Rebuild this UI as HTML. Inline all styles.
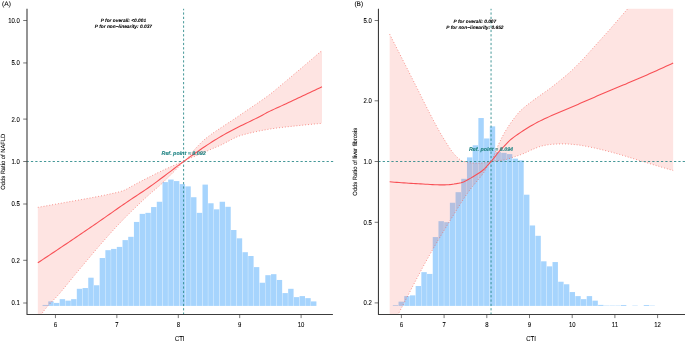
<!DOCTYPE html>
<html lang="en">
<head>
<meta charset="utf-8">
<title>Restricted cubic spline plots: CTI vs NAFLD and liver fibrosis</title>
<style>
html,body{margin:0;padding:0;background:#ffffff;}
body{width:685px;height:341px;overflow:hidden;font-family:"Liberation Sans",sans-serif;}
svg{display:block;font-family:"Liberation Sans",sans-serif;fill:#000000;will-change:transform;text-rendering:geometricPrecision;}
text{stroke:#000;stroke-width:0.07px;paint-order:stroke fill;}
text.ref{stroke:#238585;stroke-width:0.14px;}
</style>
</head>
<body>
<svg width="685" height="341" viewBox="0 0 685 341">
<rect x="0" y="0" width="685" height="341" fill="#ffffff"/>
<clipPath id="ca"><rect x="27" y="8.8" width="307.9" height="305.7"/></clipPath>
<g clip-path="url(#ca)">
<g fill="#a6d4fd"><rect x="42.55" y="304.94" width="5.41" height="0.96"/><rect x="48.26" y="301.41" width="5.41" height="4.49"/><rect x="53.97" y="302.92" width="5.41" height="2.98"/><rect x="59.69" y="299.14" width="5.41" height="6.76"/><rect x="65.4" y="300.65" width="5.41" height="5.25"/><rect x="71.11" y="299.14" width="5.41" height="6.76"/><rect x="76.82" y="288.8" width="5.41" height="17.1"/><rect x="82.53" y="288.04" width="5.41" height="17.86"/><rect x="88.25" y="277.7" width="5.41" height="28.2"/><rect x="93.96" y="285.26" width="5.41" height="20.64"/><rect x="99.67" y="258.03" width="5.41" height="47.87"/><rect x="105.38" y="250.18" width="5.41" height="55.72"/><rect x="111.09" y="248.92" width="5.41" height="56.98"/><rect x="116.81" y="246.91" width="5.41" height="58.99"/><rect x="122.52" y="240.1" width="5.41" height="65.8"/><rect x="128.23" y="236.82" width="5.41" height="69.08"/><rect x="133.94" y="221.94" width="5.41" height="83.96"/><rect x="139.65" y="213.87" width="5.41" height="92.03"/><rect x="145.37" y="212.86" width="5.41" height="93.04"/><rect x="151.08" y="207.06" width="5.41" height="98.84"/><rect x="156.79" y="201.76" width="5.41" height="104.14"/><rect x="162.5" y="182.09" width="5.41" height="123.81"/><rect x="168.21" y="179.57" width="5.41" height="126.33"/><rect x="173.93" y="181.08" width="5.41" height="124.82"/><rect x="179.64" y="184.11" width="5.41" height="121.79"/><rect x="185.35" y="186.38" width="5.41" height="119.52"/><rect x="191.06" y="197.22" width="5.41" height="108.68"/><rect x="196.77" y="212.86" width="5.41" height="93.04"/><rect x="202.49" y="184.61" width="5.41" height="121.29"/><rect x="208.2" y="203.27" width="5.41" height="102.63"/><rect x="213.91" y="209.33" width="5.41" height="96.57"/><rect x="219.62" y="201.76" width="5.41" height="104.14"/><rect x="225.33" y="206.8" width="5.41" height="99.1"/><rect x="231.05" y="230.01" width="5.41" height="75.89"/><rect x="236.76" y="238.33" width="5.41" height="67.57"/><rect x="242.47" y="252.2" width="5.41" height="53.7"/><rect x="248.18" y="256.01" width="5.41" height="49.89"/><rect x="253.89" y="267.11" width="5.41" height="38.79"/><rect x="259.61" y="282.74" width="5.41" height="23.16"/><rect x="265.32" y="275.18" width="5.41" height="30.72"/><rect x="271.03" y="274.17" width="5.41" height="31.73"/><rect x="276.74" y="279.97" width="5.41" height="25.93"/><rect x="282.45" y="293.08" width="5.41" height="12.82"/><rect x="288.17" y="288.8" width="5.41" height="17.1"/><rect x="293.88" y="297.12" width="5.41" height="8.78"/><rect x="299.59" y="296.11" width="5.41" height="9.79"/><rect x="305.3" y="298.13" width="5.41" height="7.77"/><rect x="311.01" y="301.41" width="5.41" height="4.49"/></g>
<path d="M37.83 207.4 L40.22 206.97 L42.61 206.54 L44.99 206.11 L47.38 205.68 L49.77 205.25 L52.16 204.82 L54.55 204.38 L56.93 203.95 L59.32 203.52 L61.71 203.09 L64.1 202.66 L66.49 202.23 L68.87 201.8 L71.26 201.37 L73.65 200.95 L76.04 200.52 L78.43 200.1 L80.81 199.68 L83.2 199.25 L85.59 198.82 L87.98 198.38 L90.37 197.93 L92.75 197.48 L95.14 197.03 L97.53 196.57 L99.92 196.11 L102.31 195.64 L104.69 195.15 L107.08 194.64 L109.47 194.12 L111.86 193.59 L114.25 193.07 L116.63 192.53 L119.02 191.94 L121.41 191.26 L123.8 190.47 L126.19 189.39 L128.57 188.01 L130.96 186.68 L133.35 185.39 L135.74 184.08 L138.13 182.79 L140.51 181.53 L142.9 180.3 L145.29 179.08 L147.68 177.87 L150.07 176.67 L152.45 175.46 L154.84 174.25 L157.23 173.05 L159.62 171.88 L162.01 170.75 L164.39 169.64 L166.78 168.54 L169.17 167.47 L171.56 166.41 L173.95 165.34 L176.33 164.3 L178.72 163.31 L181.11 162.42 L183.5 161.55 L185.88 159.86 L188.27 157.33 L190.66 154.35 L193.05 151.3 L195.44 148.57 L197.82 146.06 L200.21 143.59 L202.6 141.25 L204.99 139.12 L207.38 137.2 L209.76 135.39 L212.15 133.66 L214.54 132 L216.93 130.41 L219.32 128.84 L221.7 127.26 L224.09 125.68 L226.48 124.11 L228.87 122.53 L231.26 120.96 L233.64 119.38 L236.03 117.78 L238.42 116.16 L240.81 114.53 L243.2 112.89 L245.58 111.25 L247.97 109.63 L250.36 108.03 L252.75 106.43 L255.14 104.82 L257.52 103.19 L259.91 101.54 L262.3 99.86 L264.69 98.17 L267.08 96.45 L269.46 94.68 L271.85 92.84 L274.24 90.9 L276.63 88.9 L279.02 86.88 L281.4 84.88 L283.79 82.89 L286.18 80.89 L288.57 78.89 L290.96 76.88 L293.34 74.87 L295.73 72.86 L298.12 70.85 L300.51 68.83 L302.9 66.8 L305.28 64.77 L307.67 62.74 L310.06 60.7 L312.45 58.66 L314.84 56.61 L317.22 54.56 L319.61 52.5 L322 50.44 L322 123.33 L319.61 123.54 L317.22 123.75 L314.84 123.97 L312.45 124.19 L310.06 124.42 L307.67 124.65 L305.28 124.89 L302.9 125.13 L300.51 125.38 L298.12 125.63 L295.73 125.89 L293.34 126.15 L290.96 126.4 L288.57 126.66 L286.18 126.93 L283.79 127.2 L281.4 127.48 L279.02 127.78 L276.63 128.08 L274.24 128.41 L271.85 128.75 L269.46 129.12 L267.08 129.52 L264.69 129.94 L262.3 130.38 L259.91 130.86 L257.52 131.35 L255.14 131.87 L252.75 132.41 L250.36 132.96 L247.97 133.54 L245.58 134.13 L243.2 134.78 L240.81 135.49 L238.42 136.31 L236.03 137.29 L233.64 138.41 L231.26 139.63 L228.87 140.91 L226.48 142.21 L224.09 143.48 L221.7 144.68 L219.32 145.77 L216.93 146.81 L214.54 147.81 L212.15 148.81 L209.76 149.83 L207.38 150.85 L204.99 151.87 L202.6 152.89 L200.21 153.92 L197.82 154.96 L195.44 156.01 L193.05 157.01 L190.66 157.94 L188.27 158.91 L185.88 160.08 L183.5 161.58 L181.11 164.19 L178.72 166.75 L176.33 169.19 L173.95 171.58 L171.56 173.95 L169.17 176.33 L166.78 178.72 L164.39 181.09 L162.01 183.41 L159.62 185.62 L157.23 187.71 L154.84 189.73 L152.45 191.74 L150.07 193.82 L147.68 195.96 L145.29 198.13 L142.9 200.35 L140.51 202.61 L138.13 204.88 L135.74 207.17 L133.35 209.48 L130.96 211.81 L128.57 214.17 L126.19 216.56 L123.8 218.97 L121.41 221.43 L119.02 223.92 L116.63 226.45 L114.25 229.03 L111.86 231.64 L109.47 234.29 L107.08 236.96 L104.69 239.67 L102.31 242.41 L99.92 245.16 L97.53 247.94 L95.14 250.74 L92.75 253.55 L90.37 256.38 L87.98 259.22 L85.59 262.06 L83.2 264.91 L80.81 267.76 L78.43 270.61 L76.04 273.46 L73.65 276.33 L71.26 279.26 L68.87 282.22 L66.49 285.17 L64.1 288.1 L61.71 290.98 L59.32 293.78 L56.93 296.41 L54.55 298.9 L52.16 301.36 L49.77 303.86 L47.38 306.5 L44.99 309.37 L42.61 312.56 L40.22 316.36 L37.83 320.57 Z" fill="rgba(250,96,84,0.17)"/>
<path d="M37.83 207.4 L40.22 206.97 L42.61 206.54 L44.99 206.11 L47.38 205.68 L49.77 205.25 L52.16 204.82 L54.55 204.38 L56.93 203.95 L59.32 203.52 L61.71 203.09 L64.1 202.66 L66.49 202.23 L68.87 201.8 L71.26 201.37 L73.65 200.95 L76.04 200.52 L78.43 200.1 L80.81 199.68 L83.2 199.25 L85.59 198.82 L87.98 198.38 L90.37 197.93 L92.75 197.48 L95.14 197.03 L97.53 196.57 L99.92 196.11 L102.31 195.64 L104.69 195.15 L107.08 194.64 L109.47 194.12 L111.86 193.59 L114.25 193.07 L116.63 192.53 L119.02 191.94 L121.41 191.26 L123.8 190.47 L126.19 189.39 L128.57 188.01 L130.96 186.68 L133.35 185.39 L135.74 184.08 L138.13 182.79 L140.51 181.53 L142.9 180.3 L145.29 179.08 L147.68 177.87 L150.07 176.67 L152.45 175.46 L154.84 174.25 L157.23 173.05 L159.62 171.88 L162.01 170.75 L164.39 169.64 L166.78 168.54 L169.17 167.47 L171.56 166.41 L173.95 165.34 L176.33 164.3 L178.72 163.31 L181.11 162.42 L183.5 161.55 L185.88 159.86 L188.27 157.33 L190.66 154.35 L193.05 151.3 L195.44 148.57 L197.82 146.06 L200.21 143.59 L202.6 141.25 L204.99 139.12 L207.38 137.2 L209.76 135.39 L212.15 133.66 L214.54 132 L216.93 130.41 L219.32 128.84 L221.7 127.26 L224.09 125.68 L226.48 124.11 L228.87 122.53 L231.26 120.96 L233.64 119.38 L236.03 117.78 L238.42 116.16 L240.81 114.53 L243.2 112.89 L245.58 111.25 L247.97 109.63 L250.36 108.03 L252.75 106.43 L255.14 104.82 L257.52 103.19 L259.91 101.54 L262.3 99.86 L264.69 98.17 L267.08 96.45 L269.46 94.68 L271.85 92.84 L274.24 90.9 L276.63 88.9 L279.02 86.88 L281.4 84.88 L283.79 82.89 L286.18 80.89 L288.57 78.89 L290.96 76.88 L293.34 74.87 L295.73 72.86 L298.12 70.85 L300.51 68.83 L302.9 66.8 L305.28 64.77 L307.67 62.74 L310.06 60.7 L312.45 58.66 L314.84 56.61 L317.22 54.56 L319.61 52.5 L322 50.44" fill="none" stroke="#f4574d" stroke-width="0.7" stroke-dasharray="0.85 2.07"/>
<path d="M37.83 320.57 L40.22 316.36 L42.61 312.56 L44.99 309.37 L47.38 306.5 L49.77 303.86 L52.16 301.36 L54.55 298.9 L56.93 296.41 L59.32 293.78 L61.71 290.98 L64.1 288.1 L66.49 285.17 L68.87 282.22 L71.26 279.26 L73.65 276.33 L76.04 273.46 L78.43 270.61 L80.81 267.76 L83.2 264.91 L85.59 262.06 L87.98 259.22 L90.37 256.38 L92.75 253.55 L95.14 250.74 L97.53 247.94 L99.92 245.16 L102.31 242.41 L104.69 239.67 L107.08 236.96 L109.47 234.29 L111.86 231.64 L114.25 229.03 L116.63 226.45 L119.02 223.92 L121.41 221.43 L123.8 218.97 L126.19 216.56 L128.57 214.17 L130.96 211.81 L133.35 209.48 L135.74 207.17 L138.13 204.88 L140.51 202.61 L142.9 200.35 L145.29 198.13 L147.68 195.96 L150.07 193.82 L152.45 191.74 L154.84 189.73 L157.23 187.71 L159.62 185.62 L162.01 183.41 L164.39 181.09 L166.78 178.72 L169.17 176.33 L171.56 173.95 L173.95 171.58 L176.33 169.19 L178.72 166.75 L181.11 164.19 L183.5 161.58 L185.88 160.08 L188.27 158.91 L190.66 157.94 L193.05 157.01 L195.44 156.01 L197.82 154.96 L200.21 153.92 L202.6 152.89 L204.99 151.87 L207.38 150.85 L209.76 149.83 L212.15 148.81 L214.54 147.81 L216.93 146.81 L219.32 145.77 L221.7 144.68 L224.09 143.48 L226.48 142.21 L228.87 140.91 L231.26 139.63 L233.64 138.41 L236.03 137.29 L238.42 136.31 L240.81 135.49 L243.2 134.78 L245.58 134.13 L247.97 133.54 L250.36 132.96 L252.75 132.41 L255.14 131.87 L257.52 131.35 L259.91 130.86 L262.3 130.38 L264.69 129.94 L267.08 129.52 L269.46 129.12 L271.85 128.75 L274.24 128.41 L276.63 128.08 L279.02 127.78 L281.4 127.48 L283.79 127.2 L286.18 126.93 L288.57 126.66 L290.96 126.4 L293.34 126.15 L295.73 125.89 L298.12 125.63 L300.51 125.38 L302.9 125.13 L305.28 124.89 L307.67 124.65 L310.06 124.42 L312.45 124.19 L314.84 123.97 L317.22 123.75 L319.61 123.54 L322 123.33" fill="none" stroke="#f4574d" stroke-width="0.7" stroke-dasharray="0.85 2.07"/>
</g>
<path d="M27 161.5 H333.2" stroke="#238585" stroke-width="0.85" stroke-dasharray="2.25 2.098" stroke-dashoffset="0.43" fill="none"/>
<path d="M183.6 8.8 V314.5" stroke="#238585" stroke-width="0.85" stroke-dasharray="2.25 2.099" stroke-dashoffset="0.73" fill="none"/>
<path d="M37.83 262.8 L40.22 261.22 L42.61 259.64 L44.99 258.06 L47.38 256.47 L49.77 254.88 L52.16 253.29 L54.55 251.7 L56.93 250.1 L59.32 248.5 L61.71 246.9 L64.1 245.29 L66.49 243.69 L68.87 242.08 L71.26 240.47 L73.65 238.85 L76.04 237.23 L78.43 235.61 L80.81 233.99 L83.2 232.37 L85.59 230.74 L87.98 229.11 L90.37 227.48 L92.75 225.85 L95.14 224.22 L97.53 222.57 L99.92 220.92 L102.31 219.26 L104.69 217.59 L107.08 215.92 L109.47 214.25 L111.86 212.57 L114.25 210.9 L116.63 209.23 L119.02 207.56 L121.41 205.9 L123.8 204.25 L126.19 202.6 L128.57 200.97 L130.96 199.35 L133.35 197.76 L135.74 196.18 L138.13 194.62 L140.51 193.05 L142.9 191.47 L145.29 189.87 L147.68 188.23 L150.07 186.54 L152.45 184.82 L154.84 183.08 L157.23 181.31 L159.62 179.53 L162.01 177.74 L164.39 175.95 L166.78 174.16 L169.17 172.37 L171.56 170.56 L173.95 168.74 L176.33 166.92 L178.72 165.12 L181.11 163.33 L183.5 161.57 L185.88 159.84 L188.27 158.12 L190.66 156.4 L193.05 154.7 L195.44 153.01 L197.82 151.34 L200.21 149.69 L202.6 148.06 L204.99 146.47 L207.38 144.89 L209.76 143.35 L212.15 141.83 L214.54 140.33 L216.93 138.86 L219.32 137.41 L221.7 136 L224.09 134.61 L226.48 133.26 L228.87 131.96 L231.26 130.7 L233.64 129.46 L236.03 128.24 L238.42 127.03 L240.81 125.84 L243.2 124.68 L245.58 123.52 L247.97 122.37 L250.36 121.22 L252.75 120.06 L255.14 118.88 L257.52 117.68 L259.91 116.44 L262.3 115.15 L264.69 113.85 L267.08 112.58 L269.46 111.37 L271.85 110.22 L274.24 109.12 L276.63 108.03 L279.02 106.96 L281.4 105.88 L283.79 104.78 L286.18 103.67 L288.57 102.55 L290.96 101.44 L293.34 100.32 L295.73 99.2 L298.12 98.08 L300.51 96.96 L302.9 95.84 L305.28 94.71 L307.67 93.58 L310.06 92.45 L312.45 91.32 L314.84 90.18 L317.22 89.04 L319.61 87.9 L322 86.76" fill="none" stroke="#f84f55" stroke-width="1.08" stroke-linejoin="round" clip-path="url(#ca)"/>
<path d="M27 8.8 V314.5 H332.9" fill="none" stroke="#3c3c3c" stroke-width="1.1" stroke-linejoin="round"/>
<path d="M27 20.5 h-3.8 M27 62.95 h-3.8 M27 119.1 h-3.8 M27 161.5 h-3.8 M27 204 h-3.8 M27 260.3 h-3.8 M27 303 h-3.8 M55.45 314.5 v3.6 M116.85 314.5 v3.6 M178.3 314.5 v3.6 M239.7 314.5 v3.6 M301.1 314.5 v3.6" fill="none" stroke="#3c3c3c" stroke-width="0.7"/>
<text transform="translate(19.7 22.95) scale(1 1.2)" text-anchor="end" font-size="5.95">10.0</text>
<text transform="translate(19.7 65.4) scale(1 1.2)" text-anchor="end" font-size="5.95">5.0</text>
<text transform="translate(19.7 121.55) scale(1 1.2)" text-anchor="end" font-size="5.95">2.0</text>
<text transform="translate(19.7 163.95) scale(1 1.2)" text-anchor="end" font-size="5.95">1.0</text>
<text transform="translate(19.7 206.45) scale(1 1.2)" text-anchor="end" font-size="5.95">0.5</text>
<text transform="translate(19.7 262.75) scale(1 1.2)" text-anchor="end" font-size="5.95">0.2</text>
<text transform="translate(19.7 305.45) scale(1 1.2)" text-anchor="end" font-size="5.95">0.1</text>
<text transform="translate(55.45 327.1) scale(1 1.2)" text-anchor="middle" font-size="5.95">6</text>
<text transform="translate(116.85 327.1) scale(1 1.2)" text-anchor="middle" font-size="5.95">7</text>
<text transform="translate(178.3 327.1) scale(1 1.2)" text-anchor="middle" font-size="5.95">8</text>
<text transform="translate(239.7 327.1) scale(1 1.2)" text-anchor="middle" font-size="5.95">9</text>
<text transform="translate(301.1 327.1) scale(1 1.2)" text-anchor="middle" font-size="5.95">10</text>
<text transform="translate(179.7 341.0) scale(1 1.2)" text-anchor="middle" font-size="5.95">CTI</text>
<text transform="translate(5.3 161.8) rotate(-90) scale(1 1.04)" text-anchor="middle" font-size="5.8">Odds Ratio of NAFLD</text>
<text x="2.1" y="5.8" font-size="6.6">(A)</text>
<g font-weight="bold" font-style="italic" text-anchor="middle" font-size="4.82">
<text x="123.4" y="21.8">P for overall: &lt;0.001</text>
<text x="123.4" y="27.7">P for non−linearity: 0.037</text>
<text class="ref" x="183.6" y="154.6" fill="#238585" font-size="5.35">Ref. point = 8.092</text>
</g>
<clipPath id="cb"><rect x="378.45" y="8.8" width="308.55" height="305.7"/></clipPath>
<g clip-path="url(#cb)">
<g fill="#a6d4fd"><rect x="392.85" y="305.19" width="5.4" height="0.71"/><rect x="398.55" y="301.66" width="5.4" height="4.24"/><rect x="404.25" y="296.11" width="5.4" height="9.79"/><rect x="409.96" y="295.35" width="5.4" height="10.55"/><rect x="415.66" y="286.02" width="5.4" height="19.88"/><rect x="421.36" y="272.15" width="5.4" height="33.75"/><rect x="427.06" y="273.92" width="5.4" height="31.98"/><rect x="432.76" y="237.07" width="5.4" height="68.83"/><rect x="438.47" y="221.18" width="5.4" height="84.72"/><rect x="444.17" y="222.19" width="5.4" height="83.71"/><rect x="449.87" y="202.77" width="5.4" height="103.13"/><rect x="455.57" y="192.18" width="5.4" height="113.72"/><rect x="461.27" y="178.81" width="5.4" height="127.09"/><rect x="466.98" y="157.37" width="5.4" height="148.53"/><rect x="472.68" y="145.27" width="5.4" height="160.63"/><rect x="478.38" y="118.03" width="5.4" height="187.87"/><rect x="484.08" y="138.46" width="5.4" height="167.44"/><rect x="489.78" y="126.35" width="5.4" height="179.55"/><rect x="495.49" y="152.08" width="5.4" height="153.82"/><rect x="501.19" y="152.83" width="5.4" height="153.07"/><rect x="506.89" y="154.1" width="5.4" height="151.8"/><rect x="512.59" y="158.64" width="5.4" height="147.26"/><rect x="518.29" y="160.4" width="5.4" height="145.5"/><rect x="524" y="194.7" width="5.4" height="111.2"/><rect x="529.7" y="225.47" width="5.4" height="80.43"/><rect x="535.4" y="235.81" width="5.4" height="70.09"/><rect x="541.1" y="261.31" width="5.4" height="44.59"/><rect x="546.8" y="266.35" width="5.4" height="39.55"/><rect x="552.51" y="262.06" width="5.4" height="43.84"/><rect x="558.21" y="281.73" width="5.4" height="24.17"/><rect x="563.91" y="284.26" width="5.4" height="21.64"/><rect x="569.61" y="292.07" width="5.4" height="13.83"/><rect x="575.31" y="296.11" width="5.4" height="9.79"/><rect x="581.02" y="299.14" width="5.4" height="6.76"/><rect x="586.72" y="296.11" width="5.4" height="9.79"/><rect x="592.42" y="300.65" width="5.4" height="5.25"/><rect x="598.12" y="304.9" width="5.4" height="1"/><rect x="603.82" y="305.55" width="5.4" height="0.35"/><rect x="609.53" y="305.55" width="5.4" height="0.35"/><rect x="615.23" y="305.55" width="5.4" height="0.35"/><rect x="620.93" y="305" width="5.4" height="0.9"/><rect x="632.33" y="305.55" width="5.4" height="0.35"/><rect x="643.74" y="305" width="5.4" height="0.9"/><rect x="649.44" y="305.55" width="5.4" height="0.35"/></g>
<path d="M389.66 34.2 L392.04 38.86 L394.42 43.52 L396.81 48.19 L399.19 52.87 L401.57 57.54 L403.95 62.23 L406.34 66.92 L408.72 71.61 L411.1 76.3 L413.48 81 L415.86 85.71 L418.25 90.44 L420.63 95.23 L423.01 100.03 L425.39 104.81 L427.78 109.53 L430.16 114.15 L432.54 118.66 L434.92 123.16 L437.31 127.6 L439.69 131.91 L442.07 136.02 L444.45 139.86 L446.83 143.66 L449.22 147.39 L451.6 150.88 L453.98 153.97 L456.36 156.5 L458.75 158.64 L461.13 160.41 L463.51 161.38 L465.89 161.95 L468.27 162.43 L470.66 162.8 L473.04 163.05 L475.42 163.17 L477.8 163.16 L480.19 163.08 L482.57 162.91 L484.95 162.65 L487.33 162.29 L489.72 161.82 L492.1 160.41 L494.48 154.22 L496.86 148.16 L499.24 142.9 L501.63 138.01 L504.01 133.56 L506.39 129.53 L508.77 125.82 L511.16 122.33 L513.54 119.09 L515.92 115.97 L518.3 113.04 L520.68 110.52 L523.07 108.34 L525.45 106.35 L527.83 104.48 L530.21 102.63 L532.6 100.83 L534.98 99.09 L537.36 97.39 L539.74 95.68 L542.13 93.99 L544.51 92.33 L546.89 90.66 L549.27 88.94 L551.65 87.15 L554.04 85.3 L556.42 83.4 L558.8 81.47 L561.18 79.54 L563.57 77.6 L565.95 75.62 L568.33 73.58 L570.71 71.45 L573.09 69.18 L575.48 66.83 L577.86 64.44 L580.24 62.03 L582.62 59.56 L585.01 57.01 L587.39 54.38 L589.77 51.71 L592.15 49.06 L594.54 46.4 L596.92 43.74 L599.3 41.08 L601.68 38.44 L604.06 35.81 L606.45 33.19 L608.83 30.53 L611.21 27.83 L613.59 25.08 L615.98 22.3 L618.36 19.52 L620.74 16.73 L623.12 13.97 L625.5 11.24 L627.89 8.56 L630.27 5.9 L632.65 3.25 L635.03 0.61 L637.42 -2.02 L639.8 -4.64 L642.18 -7.25 L644.56 -9.85 L646.95 -12.44 L649.33 -15.02 L651.71 -17.58 L654.09 -20.13 L656.47 -22.67 L658.86 -25.19 L661.24 -27.7 L663.62 -30.19 L666 -32.67 L668.39 -35.13 L670.77 -37.57 L673.15 -40 L673.15 170.49 L670.77 169.82 L668.39 169.14 L666 168.46 L663.62 167.77 L661.24 167.07 L658.86 166.36 L656.47 165.65 L654.09 164.93 L651.71 164.21 L649.33 163.49 L646.95 162.77 L644.56 162.05 L642.18 161.33 L639.8 160.61 L637.42 159.89 L635.03 159.16 L632.65 158.42 L630.27 157.68 L627.89 156.94 L625.5 156.2 L623.12 155.48 L620.74 154.77 L618.36 154.07 L615.98 153.4 L613.59 152.75 L611.21 152.12 L608.83 151.5 L606.45 150.88 L604.06 150.28 L601.68 149.68 L599.3 149.11 L596.92 148.55 L594.54 148.02 L592.15 147.5 L589.77 147.02 L587.39 146.55 L585.01 146.09 L582.62 145.64 L580.24 145.23 L577.86 144.9 L575.48 144.65 L573.09 144.43 L570.71 144.23 L568.33 144.06 L565.95 143.95 L563.57 143.9 L561.18 143.92 L558.8 143.98 L556.42 144.06 L554.04 144.17 L551.65 144.32 L549.27 144.59 L546.89 144.95 L544.51 145.38 L542.13 145.89 L539.74 146.61 L537.36 147.48 L534.98 148.43 L532.6 149.39 L530.21 150.45 L527.83 151.6 L525.45 152.73 L523.07 153.75 L520.68 154.66 L518.3 155.51 L515.92 156.31 L513.54 157.09 L511.16 157.88 L508.77 158.7 L506.39 159.44 L504.01 160.03 L501.63 160.4 L499.24 160.62 L496.86 160.78 L494.48 160.97 L492.1 161.29 L489.72 162.45 L487.33 166.35 L484.95 170.9 L482.57 174.26 L480.19 177.29 L477.8 180.15 L475.42 182.97 L473.04 185.83 L470.66 188.83 L468.27 192.07 L465.89 195.5 L463.51 199.06 L461.13 202.74 L458.75 206.51 L456.36 210.34 L453.98 214.21 L451.6 218.1 L449.22 221.97 L446.83 225.85 L444.45 229.74 L442.07 233.67 L439.69 237.63 L437.31 241.63 L434.92 245.68 L432.54 249.79 L430.16 253.95 L427.78 258.18 L425.39 262.49 L423.01 266.86 L420.63 271.29 L418.25 275.77 L415.86 280.3 L413.48 284.85 L411.1 289.43 L408.72 294.03 L406.34 298.63 L403.95 303.22 L401.57 307.81 L399.19 312.38 L396.81 316.93 L394.42 321.49 L392.04 326.07 L389.66 330.66 Z" fill="rgba(250,96,84,0.17)"/>
<path d="M389.66 34.2 L392.04 38.86 L394.42 43.52 L396.81 48.19 L399.19 52.87 L401.57 57.54 L403.95 62.23 L406.34 66.92 L408.72 71.61 L411.1 76.3 L413.48 81 L415.86 85.71 L418.25 90.44 L420.63 95.23 L423.01 100.03 L425.39 104.81 L427.78 109.53 L430.16 114.15 L432.54 118.66 L434.92 123.16 L437.31 127.6 L439.69 131.91 L442.07 136.02 L444.45 139.86 L446.83 143.66 L449.22 147.39 L451.6 150.88 L453.98 153.97 L456.36 156.5 L458.75 158.64 L461.13 160.41 L463.51 161.38 L465.89 161.95 L468.27 162.43 L470.66 162.8 L473.04 163.05 L475.42 163.17 L477.8 163.16 L480.19 163.08 L482.57 162.91 L484.95 162.65 L487.33 162.29 L489.72 161.82 L492.1 160.41 L494.48 154.22 L496.86 148.16 L499.24 142.9 L501.63 138.01 L504.01 133.56 L506.39 129.53 L508.77 125.82 L511.16 122.33 L513.54 119.09 L515.92 115.97 L518.3 113.04 L520.68 110.52 L523.07 108.34 L525.45 106.35 L527.83 104.48 L530.21 102.63 L532.6 100.83 L534.98 99.09 L537.36 97.39 L539.74 95.68 L542.13 93.99 L544.51 92.33 L546.89 90.66 L549.27 88.94 L551.65 87.15 L554.04 85.3 L556.42 83.4 L558.8 81.47 L561.18 79.54 L563.57 77.6 L565.95 75.62 L568.33 73.58 L570.71 71.45 L573.09 69.18 L575.48 66.83 L577.86 64.44 L580.24 62.03 L582.62 59.56 L585.01 57.01 L587.39 54.38 L589.77 51.71 L592.15 49.06 L594.54 46.4 L596.92 43.74 L599.3 41.08 L601.68 38.44 L604.06 35.81 L606.45 33.19 L608.83 30.53 L611.21 27.83 L613.59 25.08 L615.98 22.3 L618.36 19.52 L620.74 16.73 L623.12 13.97 L625.5 11.24 L627.89 8.56 L630.27 5.9 L632.65 3.25 L635.03 0.61 L637.42 -2.02 L639.8 -4.64 L642.18 -7.25 L644.56 -9.85 L646.95 -12.44 L649.33 -15.02 L651.71 -17.58 L654.09 -20.13 L656.47 -22.67 L658.86 -25.19 L661.24 -27.7 L663.62 -30.19 L666 -32.67 L668.39 -35.13 L670.77 -37.57 L673.15 -40" fill="none" stroke="#f4574d" stroke-width="0.7" stroke-dasharray="0.85 2.07"/>
<path d="M389.66 330.66 L392.04 326.07 L394.42 321.49 L396.81 316.93 L399.19 312.38 L401.57 307.81 L403.95 303.22 L406.34 298.63 L408.72 294.03 L411.1 289.43 L413.48 284.85 L415.86 280.3 L418.25 275.77 L420.63 271.29 L423.01 266.86 L425.39 262.49 L427.78 258.18 L430.16 253.95 L432.54 249.79 L434.92 245.68 L437.31 241.63 L439.69 237.63 L442.07 233.67 L444.45 229.74 L446.83 225.85 L449.22 221.97 L451.6 218.1 L453.98 214.21 L456.36 210.34 L458.75 206.51 L461.13 202.74 L463.51 199.06 L465.89 195.5 L468.27 192.07 L470.66 188.83 L473.04 185.83 L475.42 182.97 L477.8 180.15 L480.19 177.29 L482.57 174.26 L484.95 170.9 L487.33 166.35 L489.72 162.45 L492.1 161.29 L494.48 160.97 L496.86 160.78 L499.24 160.62 L501.63 160.4 L504.01 160.03 L506.39 159.44 L508.77 158.7 L511.16 157.88 L513.54 157.09 L515.92 156.31 L518.3 155.51 L520.68 154.66 L523.07 153.75 L525.45 152.73 L527.83 151.6 L530.21 150.45 L532.6 149.39 L534.98 148.43 L537.36 147.48 L539.74 146.61 L542.13 145.89 L544.51 145.38 L546.89 144.95 L549.27 144.59 L551.65 144.32 L554.04 144.17 L556.42 144.06 L558.8 143.98 L561.18 143.92 L563.57 143.9 L565.95 143.95 L568.33 144.06 L570.71 144.23 L573.09 144.43 L575.48 144.65 L577.86 144.9 L580.24 145.23 L582.62 145.64 L585.01 146.09 L587.39 146.55 L589.77 147.02 L592.15 147.5 L594.54 148.02 L596.92 148.55 L599.3 149.11 L601.68 149.68 L604.06 150.28 L606.45 150.88 L608.83 151.5 L611.21 152.12 L613.59 152.75 L615.98 153.4 L618.36 154.07 L620.74 154.77 L623.12 155.48 L625.5 156.2 L627.89 156.94 L630.27 157.68 L632.65 158.42 L635.03 159.16 L637.42 159.89 L639.8 160.61 L642.18 161.33 L644.56 162.05 L646.95 162.77 L649.33 163.49 L651.71 164.21 L654.09 164.93 L656.47 165.65 L658.86 166.36 L661.24 167.07 L663.62 167.77 L666 168.46 L668.39 169.14 L670.77 169.82 L673.15 170.49" fill="none" stroke="#f4574d" stroke-width="0.7" stroke-dasharray="0.85 2.07"/>
</g>
<path d="M378.45 161.5 H685" stroke="#238585" stroke-width="0.85" stroke-dasharray="2.25 2.098" stroke-dashoffset="0.11" fill="none"/>
<path d="M491.05 8.8 V314.5" stroke="#238585" stroke-width="0.85" stroke-dasharray="2.25 2.099" stroke-dashoffset="0.73" fill="none"/>
<path d="M389.66 181.8 L392.04 181.99 L394.42 182.18 L396.81 182.36 L399.19 182.53 L401.57 182.71 L403.95 182.87 L406.34 183.03 L408.72 183.19 L411.1 183.34 L413.48 183.48 L415.86 183.61 L418.25 183.75 L420.63 183.9 L423.01 184.04 L425.39 184.19 L427.78 184.33 L430.16 184.47 L432.54 184.59 L434.92 184.7 L437.31 184.79 L439.69 184.85 L442.07 184.89 L444.45 184.9 L446.83 184.82 L449.22 184.65 L451.6 184.39 L453.98 184.05 L456.36 183.65 L458.75 183.19 L461.13 182.69 L463.51 181.96 L465.89 180.79 L468.27 179.45 L470.66 178.14 L473.04 176.73 L475.42 175.25 L477.8 173.74 L480.19 172.26 L482.57 170.5 L484.95 168.27 L487.33 165.72 L489.72 163.02 L492.1 160.28 L494.48 157.29 L496.86 154.21 L499.24 151.28 L501.63 148.69 L504.01 146.29 L506.39 143.78 L508.77 141.33 L511.16 139.22 L513.54 137.36 L515.92 135.63 L518.3 133.97 L520.68 132.33 L523.07 130.73 L525.45 129.2 L527.83 127.7 L530.21 126.28 L532.6 124.92 L534.98 123.61 L537.36 122.35 L539.74 121.13 L542.13 119.95 L544.51 118.81 L546.89 117.71 L549.27 116.63 L551.65 115.56 L554.04 114.53 L556.42 113.51 L558.8 112.5 L561.18 111.51 L563.57 110.52 L565.95 109.52 L568.33 108.51 L570.71 107.49 L573.09 106.46 L575.48 105.43 L577.86 104.39 L580.24 103.35 L582.62 102.31 L585.01 101.27 L587.39 100.23 L589.77 99.2 L592.15 98.17 L594.54 97.14 L596.92 96.1 L599.3 95.07 L601.68 94.04 L604.06 93.02 L606.45 92 L608.83 90.99 L611.21 89.99 L613.59 89.01 L615.98 88.03 L618.36 87.07 L620.74 86.1 L623.12 85.12 L625.5 84.13 L627.89 83.12 L630.27 82.11 L632.65 81.09 L635.03 80.07 L637.42 79.04 L639.8 78.01 L642.18 76.98 L644.56 75.94 L646.95 74.89 L649.33 73.85 L651.71 72.79 L654.09 71.73 L656.47 70.67 L658.86 69.6 L661.24 68.52 L663.62 67.44 L666 66.35 L668.39 65.26 L670.77 64.16 L673.15 63.05" fill="none" stroke="#f84f55" stroke-width="1.08" stroke-linejoin="round" clip-path="url(#cb)"/>
<path d="M378.45 8.8 V314.5 H685" fill="none" stroke="#3c3c3c" stroke-width="1.1" stroke-linejoin="round"/>
<path d="M378.45 20.5 h-3.8 M378.45 100.8 h-3.8 M378.45 161.5 h-3.8 M378.45 222.3 h-3.8 M378.45 302.9 h-3.8 M401.4 314.5 v3.6 M444.1 314.5 v3.6 M486.8 314.5 v3.6 M529.5 314.5 v3.6 M572.2 314.5 v3.6 M614.9 314.5 v3.6 M657.6 314.5 v3.6" fill="none" stroke="#3c3c3c" stroke-width="0.7"/>
<text transform="translate(371.85 22.95) scale(1 1.2)" text-anchor="end" font-size="5.95">5.0</text>
<text transform="translate(371.85 103.25) scale(1 1.2)" text-anchor="end" font-size="5.95">2.0</text>
<text transform="translate(371.85 163.95) scale(1 1.2)" text-anchor="end" font-size="5.95">1.0</text>
<text transform="translate(371.85 224.75) scale(1 1.2)" text-anchor="end" font-size="5.95">0.5</text>
<text transform="translate(371.85 305.35) scale(1 1.2)" text-anchor="end" font-size="5.95">0.2</text>
<text transform="translate(401.4 327.1) scale(1 1.2)" text-anchor="middle" font-size="5.95">6</text>
<text transform="translate(444.1 327.1) scale(1 1.2)" text-anchor="middle" font-size="5.95">7</text>
<text transform="translate(486.8 327.1) scale(1 1.2)" text-anchor="middle" font-size="5.95">8</text>
<text transform="translate(529.5 327.1) scale(1 1.2)" text-anchor="middle" font-size="5.95">9</text>
<text transform="translate(572.2 327.1) scale(1 1.2)" text-anchor="middle" font-size="5.95">10</text>
<text transform="translate(614.9 327.1) scale(1 1.2)" text-anchor="middle" font-size="5.95">11</text>
<text transform="translate(657.6 327.1) scale(1 1.2)" text-anchor="middle" font-size="5.95">12</text>
<text transform="translate(531 341.0) scale(1 1.2)" text-anchor="middle" font-size="5.95">CTI</text>
<text transform="translate(356.6 161.8) rotate(-90) scale(1 1.04)" text-anchor="middle" font-size="5.8">Odds Ratio of liver fibrosis</text>
<text x="354.4" y="5.8" font-size="6.6">(B)</text>
<g font-weight="bold" font-style="italic" text-anchor="middle" font-size="4.82">
<text x="474.9" y="22.8">P for overall: 0.007</text>
<text x="474.9" y="28.7">P for non−linearity: 0.652</text>
<text class="ref" x="491.05" y="150.6" fill="#238585" font-size="5.35">Ref. point = 8.094</text>
</g>
</svg>
</body>
</html>
